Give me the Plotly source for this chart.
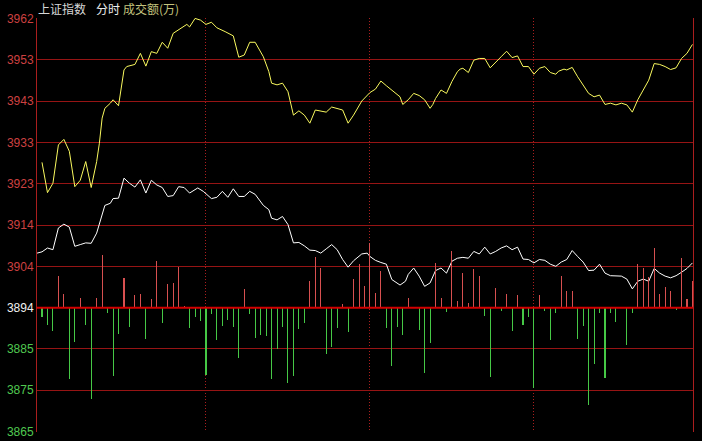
import plotly.graph_objects as go

# ---------------- data ----------------
tick_labels = ["3962", "3953", "3943", "3933", "3923", "3914", "3904", "3894", "3885", "3875", "3865"]
tick_values = [3962.0, 3952.3, 3942.6, 3932.9, 3923.2, 3913.5, 3903.8, 3894.1, 3884.4, 3874.7, 3865.0]
base_value = 3894.1

yellow_t = [0, 2, 4, 6, 8, 10, 12, 14, 16, 18, 20, 21, 22, 23, 25, 26, 28, 30, 31, 34, 36, 38, 40, 42, 44, 46,
            48, 51, 53, 54, 56, 58, 60, 62, 64, 67, 70, 72, 74, 76, 78, 81, 83, 84, 86, 88, 90, 92, 94, 96, 98,
            100, 102, 104, 106, 108, 110, 112, 114, 117, 119, 120, 122, 124, 126, 128, 131, 132, 134, 136, 138,
            140, 142, 143, 144, 146, 148, 150, 152, 153, 154, 156, 158, 160, 162, 164, 166, 168, 170, 172, 174,
            176, 178, 180, 182, 184, 186, 188, 189, 191, 192, 194, 196, 198, 200, 202, 204, 206, 208, 210, 212,
            214, 216, 218, 220, 222, 224, 226, 228, 230, 232, 234, 236, 238]
yellow_v = [3928.2, 3921.1, 3923.3, 3932.3, 3933.6, 3930.8, 3922.5, 3924.0, 3928.4, 3922.3, 3928.4, 3932.7,
            3938.6, 3940.9, 3942.1, 3942.9, 3941.5, 3949.9, 3950.7, 3951.2, 3953.8, 3950.8, 3954.2, 3953.8,
            3956.4, 3955.0, 3958.5, 3959.8, 3960.6, 3960.0, 3962.0, 3961.6, 3960.6, 3961.1, 3959.8, 3958.9,
            3957.9, 3952.9, 3953.4, 3956.4, 3956.4, 3953.0, 3949.5, 3946.8, 3946.4, 3946.8, 3944.8, 3939.3,
            3940.3, 3939.3, 3937.4, 3940.5, 3940.3, 3940.0, 3941.2, 3940.9, 3940.5, 3937.4, 3939.3, 3942.6,
            3944.0, 3944.6, 3945.4, 3947.3, 3946.2, 3945.2, 3943.6, 3941.8, 3942.9, 3944.4, 3943.9, 3942.9,
            3940.9, 3941.8, 3943.2, 3945.2, 3944.4, 3947.2, 3949.5, 3950.1, 3950.3, 3949.3, 3952.2, 3952.6,
            3952.6, 3950.4, 3951.8, 3953.0, 3954.3, 3952.8, 3953.2, 3950.7, 3950.7, 3948.9, 3950.3, 3950.7,
            3949.3, 3948.9, 3949.6, 3950.1, 3949.9, 3950.5, 3948.3, 3946.4, 3944.4, 3943.6, 3944.0, 3941.8,
            3942.1, 3941.7, 3942.1, 3941.7, 3940.0, 3942.9, 3945.2, 3947.5, 3951.4, 3951.2, 3950.7, 3950.0,
            3950.4, 3952.6, 3953.8, 3955.9]

white_t = [-1.8, 0, 2, 4, 6, 8, 10, 12, 14, 16, 18, 20, 23, 25, 26, 28, 30, 32, 34, 36, 38, 40, 42, 44, 46, 48,
           50, 52, 54, 57, 59, 61, 62, 64, 66, 68, 70, 72, 74, 76, 78, 81, 83, 84, 86, 88, 90, 92, 94, 96, 98,
           100, 102, 104, 106, 108, 110, 112, 114, 117, 119, 120, 122, 124, 126, 128, 131, 133, 134, 136, 138,
           140, 142, 144, 146, 148, 150, 152, 154, 156, 158, 160, 162, 164, 166, 168, 170, 172, 174, 176, 178,
           180, 182, 184, 186, 188, 190, 192, 194, 196, 198, 200, 202, 204, 206, 208, 210, 212, 214, 216, 218,
           220, 222, 224, 226, 228, 230, 232, 234, 236, 238]
white_v = [3906.9, 3907.2, 3908.1, 3907.7, 3912.8, 3913.7, 3913.0, 3908.5, 3908.9, 3909.3, 3909.2, 3911.6,
           3918.1, 3918.6, 3919.7, 3919.8, 3924.5, 3923.3, 3922.4, 3924.1, 3921.0, 3924.0, 3922.9, 3922.3,
           3920.2, 3920.4, 3922.5, 3922.3, 3921.0, 3922.2, 3921.4, 3920.2, 3919.7, 3920.0, 3921.4, 3920.0,
           3922.0, 3920.2, 3920.2, 3921.4, 3920.7, 3918.1, 3917.1, 3915.1, 3914.7, 3915.5, 3913.6, 3909.3,
           3909.4, 3908.6, 3907.6, 3907.5, 3906.9, 3907.9, 3908.9, 3907.7, 3905.4, 3903.6, 3905.1, 3906.7,
           3906.9, 3906.1, 3905.2, 3904.7, 3904.3, 3900.7, 3899.4, 3900.3, 3901.9, 3903.4, 3901.5, 3899.1,
           3899.9, 3902.8, 3903.4, 3902.2, 3905.0, 3905.7, 3905.9, 3905.7, 3907.3, 3906.7, 3908.3, 3906.7,
           3907.3, 3908.1, 3908.6, 3907.7, 3908.3, 3905.5, 3905.4, 3904.6, 3905.4, 3905.2, 3904.3, 3903.8,
           3904.8, 3905.4, 3907.5, 3906.1, 3904.8, 3902.8, 3902.9, 3904.3, 3902.2, 3901.6, 3901.6, 3901.5,
           3900.8, 3898.5, 3900.3, 3900.8, 3900.3, 3903.3, 3902.2, 3901.5, 3901.1, 3901.6, 3902.4, 3903.3,
           3904.6]

# buy/sell strength bars, one every 2 minutes (arbitrary units)
bar_strength = [
    -28, -52, -70, 95, 40, -215, -103, 28, -52, -275, 28, 158, -15, -205, -80, 88, -58, 37, 40, -95, 25, 140, -47, 70,
    75, 123, 4, -60, -28, -40, -203, -18, -97, -55, -37, -58, -150, 55, -18, -90, -82, -85, -213, -123, -58, -225, -205, -63,
    -47, 80, 153, 120, -140, -118, -62, 10, -73, 87, 130, 64, 194, 43, 110, -62, -175, -57, -83, 28, 3, -68, -197, -105,
    135, 28, -13, 170, 20, 104, 13, 115, 94, -25, -207, 58, -10, 40, -70, 37, -52, -28, -240, 37, -10, -97, -15, 94,
    50, 50, -95, -55, -292, -170, -17, -210, -17, -43, 0, -113, -17, 130, 120, 93, 178, 40, 62, 50, -7, 148, 25, 80,
]
bar_t = [2 * i for i in range(len(bar_strength))]
hour_marks = [60, 120, 180]

# ---------------- style ----------------
BG = "#000000"
GRID = "rgb(150,20,20)"
AXIS = "rgb(170,30,30)"
BASE = "rgb(210,0,0)"
UP = "rgb(215,80,80)"
DOWN = "rgb(70,200,70)"
YELLOW = "rgb(250,250,95)"
WHITE = "rgb(255,255,255)"
LBL_UP = "rgb(205,65,65)"
LBL_DN = "rgb(80,200,80)"
LBL_MID = "rgb(240,240,240)"
FONT = "Liberation Sans, Arial, Noto Sans CJK SC"
CJK = "Noto Sans CJK SC"

ymin, ymax = 3864.9, 3962.1
frac0 = (base_value - ymin) / (ymax - ymin)
span2 = 1242.0
y2_range = [-frac0 * span2, (1 - frac0) * span2]

def colored(lbl, val):
    if abs(val - base_value) < 1e-6:
        c = LBL_MID
    elif val > base_value:
        c = LBL_UP
    else:
        c = LBL_DN
    return f"<span style='color:{c}'>{lbl}</span>"

fig = go.Figure()

fig.add_trace(go.Bar(
    x=bar_t, y=bar_strength, yaxis="y2", width=0.38,
    marker=dict(color=[UP if v >= 0 else DOWN for v in bar_strength], line=dict(width=0)),
    hoverinfo="skip", showlegend=False,
))
fig.add_trace(go.Scatter(
    x=white_t, y=white_v, mode="lines", line=dict(color=WHITE, width=1),
    hoverinfo="skip", showlegend=False,
))
fig.add_trace(go.Scatter(
    x=yellow_t, y=yellow_v, mode="lines", line=dict(color=YELLOW, width=1),
    hoverinfo="skip", showlegend=False,
))

fig.add_shape(type="line", xref="paper", x0=0, x1=1, yref="y", y0=base_value, y1=base_value,
              line=dict(color=BASE, width=2), layer="above")

fig.update_layout(
    width=702, height=441, autosize=False,
    margin=dict(l=37, r=9, t=18, b=9, pad=0),
    paper_bgcolor=BG, plot_bgcolor=BG,
    font=dict(family=FONT, size=12, color=LBL_UP),
    bargap=0,
    xaxis=dict(
        range=[-1.83, 238.2], showticklabels=False, ticks="",
        tickvals=hour_marks, showgrid=True, gridcolor=AXIS, gridwidth=1, griddash="1px,2px",
        zeroline=False, showline=False, automargin=False,
    ),
    yaxis=dict(
        range=[ymin, ymax], tickvals=tick_values,
        ticktext=[colored(l, v) for l, v in zip(tick_labels, tick_values)],
        showgrid=True, gridcolor=GRID, gridwidth=1, zeroline=False,
        showline=True, linecolor=AXIS, linewidth=1, mirror=True, ticks="",
        tickfont=dict(family=FONT, size=12), automargin=False,
        ticklabeloverflow="allow",
    ),
    yaxis2=dict(range=y2_range, overlaying="y", visible=False, showgrid=False, zeroline=False),
)

title_parts = [("上证指数", "rgb(215,215,215)", 0), ("分时", "rgb(235,235,235)", 58), ("成交额(万)", "rgb(195,195,125)", 85)]
for txt, col, dx in title_parts:
    fig.add_annotation(xref="paper", yref="paper", x=0.0, y=1.0, xanchor="left", yanchor="middle",
                       xshift=dx, yshift=10, showarrow=False, borderpad=0,
                       text=f"<span style='color:{col}'>{txt}</span>",
                       font=dict(family=CJK, size=12))

page_css = (
    "var h=document.documentElement,b=document.body;"
    "h.style.margin='0';h.style.padding='0';h.style.height='441px';h.style.overflow='hidden';"
    "b.style.margin='0';b.style.padding='0';b.style.height='441px';b.style.overflow='hidden';"
    "b.style.background='#000';"
)

fig.write_html(
    "out.html",
    config={"displayModeBar": False, "staticPlot": True},
    post_script=page_css,
)
